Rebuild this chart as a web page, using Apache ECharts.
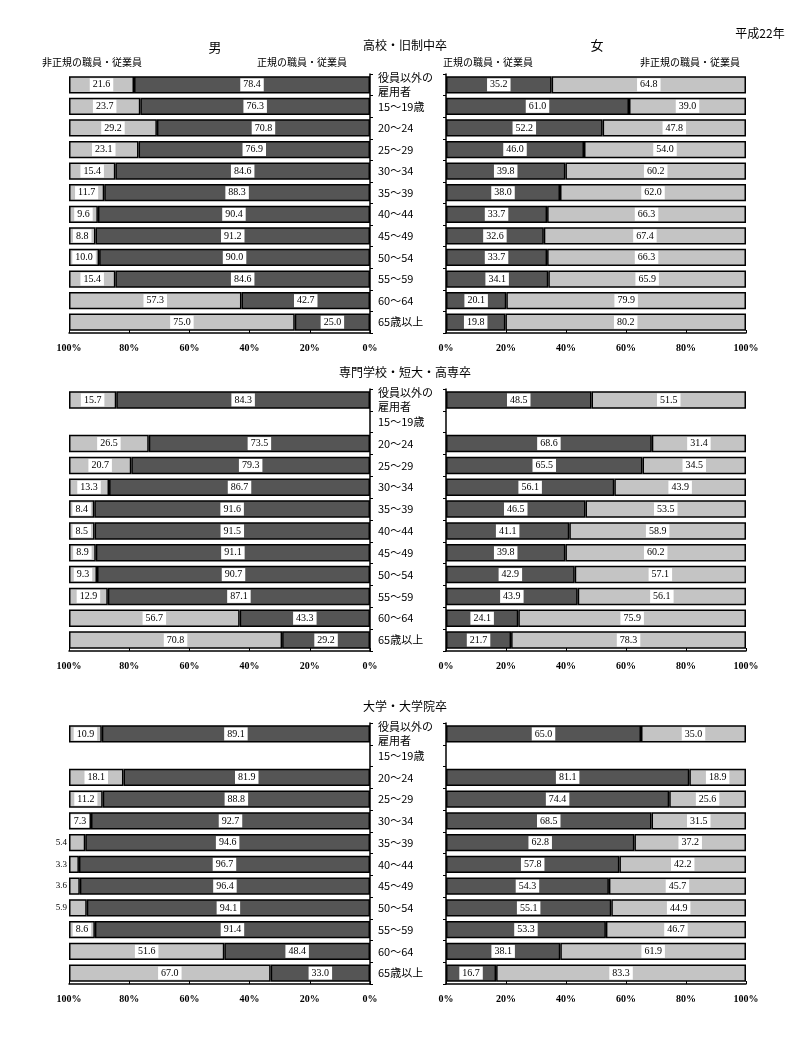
<!DOCTYPE html>
<html><head><meta charset="utf-8">
<script src="https://cdn.jsdelivr.net/npm/echarts@6/dist/echarts.min.js"></script>
<style>html,body{margin:0;padding:0;background:#fff}#c{width:800px;height:1040px}</style>
</head><body><div id="c"></div><script>
const categories = ['役員以外の\n雇用者','15～19歳','20～24','25～29','30～34','35～39','40～44','45～49','50～54','55～59','60～64','65歳以上'];
const sectionTitles = ['高校・旧制中卒','専門学校・短大・高専卒','大学・大学院卒'];
const xTicks = ['0%','20%','40%','60%','80%','100%'];

// 高校・旧制中卒
const male1NonRegular = [21.6,23.7,29.2,23.1,15.4,11.7,9.6,8.8,10.0,15.4,57.3,75.0];
const male1Regular    = [78.4,76.3,70.8,76.9,84.6,88.3,90.4,91.2,90.0,84.6,42.7,25.0];
const female1Regular    = [35.2,61.0,52.2,46.0,39.8,38.0,33.7,32.6,33.7,34.1,20.1,19.8];
const female1NonRegular = [64.8,39.0,47.8,54.0,60.2,62.0,66.3,67.4,66.3,65.9,79.9,80.2];
// 専門学校・短大・高専卒
const male2NonRegular = [15.7,null,26.5,20.7,13.3,8.4,8.5,8.9,9.3,12.9,56.7,70.8];
const male2Regular    = [84.3,null,73.5,79.3,86.7,91.6,91.5,91.1,90.7,87.1,43.3,29.2];
const female2Regular    = [48.5,null,68.6,65.5,56.1,46.5,41.1,39.8,42.9,43.9,24.1,21.7];
const female2NonRegular = [51.5,null,31.4,34.5,43.9,53.5,58.9,60.2,57.1,56.1,75.9,78.3];
// 大学・大学院卒
const male3NonRegular = [10.9,null,18.1,11.2,7.3,5.4,3.3,3.6,5.9,8.6,51.6,67.0];
const male3Regular    = [89.1,null,81.9,88.8,92.7,94.6,96.7,96.4,94.1,91.4,48.4,33.0];
const female3Regular    = [65.0,null,81.1,74.4,68.5,62.8,57.8,54.3,55.1,53.3,38.1,16.7];
const female3NonRegular = [35.0,null,18.9,25.6,31.5,37.2,42.2,45.7,44.9,46.7,61.9,83.3];

const sectionData = [
  [male1Regular, male1NonRegular, female1Regular, female1NonRegular],
  [male2Regular, male2NonRegular, female2Regular, female2NonRegular],
  [male3Regular, male3NonRegular, female3Regular, female3NonRegular]
];

const DARK = '#555555', LIGHT = '#c4c4c4';
const numFont = 'Liberation Serif';
const jpFont = 'Noto Sans CJK JP';
const gridTops = [74, 389, 723];
const gridHeights = [259, 262, 261];

const grids = [], xAxes = [], yAxes = [], series = [];
const baseLabel = {
  show: true, position: 'inside', color: '#000', fontSize: 10, fontFamily: numFont,
  backgroundColor: '#fff', padding: [2, 3, 1, 3],
  formatter: p => (p.value == null ? '' : Number(p.value).toFixed(1))
};
function makeData(arr, allowOutside) {
  return arr.map(v => {
    if (v == null) return null;
    if (allowOutside && v < 6) {
      return { value: v, label: { position: 'left', distance: 2, backgroundColor: 'transparent', padding: 0, fontSize: 9 } };
    }
    return v;
  });
}

for (let s = 0; s < 3; s++) {
  for (let side = 0; side < 2; side++) {
    const idx = s * 2 + side;
    const isMale = side === 0;
    grids.push(isMale
      ? { left: 69, width: 301, top: gridTops[s], height: gridHeights[s] }
      : { left: 446, width: 300, top: gridTops[s], height: gridHeights[s] });
    xAxes.push({
      type: 'value', gridIndex: idx, min: 0, max: 100, interval: 20, inverse: isMale,
      axisLine: { show: true, lineStyle: { color: '#000', width: 1.5 } },
      axisTick: { show: true, inside: true, length: 3, lineStyle: { color: '#000' } },
      splitLine: { show: false },
      axisLabel: { formatter: (v) => xTicks[v / 20], fontFamily: numFont, fontSize: 10, color: '#000', margin: 10, fontWeight: 'bold' }
    });
    yAxes.push({
      type: 'category', gridIndex: idx, data: categories, inverse: true,
      position: isMale ? 'right' : 'left',
      axisLine: { show: true, lineStyle: { color: '#000', width: 1.5 } },
      axisTick: { show: true, length: 3, interval: 0, lineStyle: { color: '#000' } },
      axisLabel: { show: isMale, interval: 0, hideOverlap: false, color: '#000', fontSize: 11, fontFamily: jpFont, margin: 8, lineHeight: 14, align: 'left' }
    });
    const d = sectionData[s];
    const reg = isMale ? d[0] : d[2];
    const non = isMale ? d[1] : d[3];
    const common = { type: 'bar', xAxisIndex: idx, yAxisIndex: idx, stack: 'st' + idx, barCategoryGap: '20%', label: baseLabel, silent: true, animation: false };
    series.push(Object.assign({}, common, {
      name: '正規の職員・従業員', data: makeData(reg, false),
      itemStyle: { color: DARK, borderColor: '#000', borderWidth: 1.5 }
    }));
    series.push(Object.assign({}, common, {
      name: '非正規の職員・従業員', data: makeData(non, isMale),
      itemStyle: { color: LIGHT, borderColor: '#000', borderWidth: 1.5 }
    }));
  }
}

const txt = (x, y, text, align, size) => ({
  type: 'text', x: x, y: y,
  style: { text: text, fill: '#000', font: size + 'px "' + jpFont + '"', textAlign: align, textVerticalAlign: 'middle' }
});
const graphic = [
  txt(760, 33, '平成22年', 'center', 12),
  txt(405, 45, sectionTitles[0], 'center', 12),
  txt(405, 372, sectionTitles[1], 'center', 12),
  txt(405, 706, sectionTitles[2], 'center', 12),
  txt(215, 47, '男', 'center', 13),
  txt(597, 45, '女', 'center', 13),
  txt(42, 62, '非正規の職員・従業員', 'left', 10),
  txt(257, 62, '正規の職員・従業員', 'left', 10),
  txt(443, 62, '正規の職員・従業員', 'left', 10),
  txt(640, 62, '非正規の職員・従業員', 'left', 10)
];

const chart = echarts.init(document.getElementById('c'));
chart.setOption({ animation: false, backgroundColor: '#fff', grid: grids, xAxis: xAxes, yAxis: yAxes, series: series, graphic: graphic });
</script></body></html>
